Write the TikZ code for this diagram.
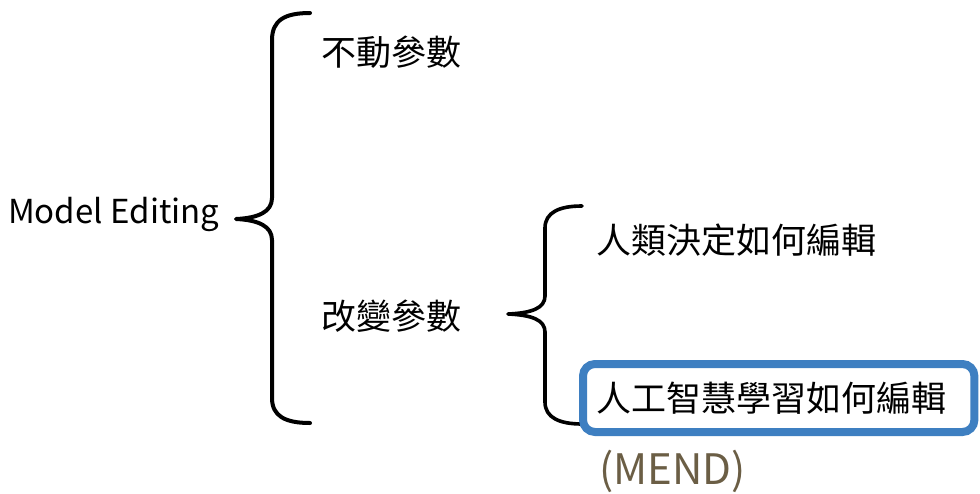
\documentclass[tikz,border=0pt]{standalone}
\usepackage{fontspec}
\setmainfont{Noto Sans CJK TC}
\usetikzlibrary{calc}
\definecolor{boxblue}{HTML}{3E7FC1}
\definecolor{mendbrown}{HTML}{6B5E45}
\tikzset{
  lbl/.style={anchor=west, inner sep=0pt, font=\fontsize{35}{42}\selectfont},
  latinlbl/.style={anchor=west, inner sep=0pt, font=\fontsize{33}{40}\selectfont},
  bracestroke/.style={line width=4pt, line cap=round, line join=round},
  bluebox/.style={draw=boxblue, line width=8pt, rounded corners=12pt},
}
\begin{document}
\begin{tikzpicture}[x=1pt,y=-1pt]
\useasboundingbox (0,0) rectangle (980,493);
% texts
\node[latinlbl] (me) at (8,214) {Model Editing};
\node[lbl] (fix) at (321,52) {不動參數};
\node[lbl] (chg) at (321,316) {改變參數};
\node[lbl] (hum) at (596,240) {人類決定如何編輯};
\node[lbl] (ai) at (596,398) {人工智慧學習如何編輯};
\node[anchor=north west, inner sep=0pt, text=mendbrown, font=\fontsize{42}{50}\selectfont] (mend) at (599,450) {(MEND)};
% big brace
\draw[bracestroke] (310,13) .. controls (285,13) and (272,20) .. (272,40)
  -- (272,198) .. controls (272,212) and (258,218) .. (236,219)
  .. controls (258,220) and (272,226) .. (272,240)
  -- (272,398) .. controls (272,416) and (285,423) .. (310,423);
% small brace
\draw[bracestroke, line width=3.6pt] (582,206) .. controls (560,206) and (545,212) .. (545,228)
  -- (545,296) .. controls (545,308) and (532,313) .. (508,314)
  .. controls (532,315) and (545,320) .. (545,332)
  -- (545,402) .. controls (545,418) and (560,424) .. (582,424);
% highlight box
\draw[bluebox] ($(ai.west)+(-13,-34)$) rectangle ($(ai.east)+(28,34)$);
\end{tikzpicture}
\end{document}
